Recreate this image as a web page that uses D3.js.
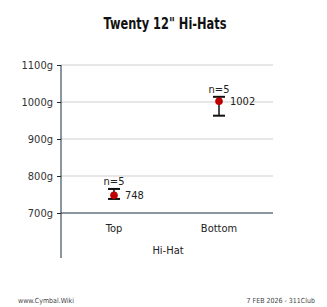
<!DOCTYPE html>
<meta charset="utf-8">
<style>
body { margin: 0; background: #fff; }
text { font-family: "DejaVu Sans Condensed", "Liberation Sans Narrow", sans-serif; fill: #222; }
.title { font-family: "DejaVu Sans Condensed", sans-serif; font-weight: bold; font-size: 16.5px; fill: #111; }
.tick text { font-size: 11px; fill: #333; }
.lbl { font-size: 11px; }
.foot { font-size: 7px; fill: #444; }
</style>
<svg width="327" height="307"></svg>
<script src="https://cdn.jsdelivr.net/npm/d3@7"></script>
<script>

var categories = ["Top", "Bottom"];
var means = [748, 1002];
var lows = [738, 963];
var highs = [765, 1014];
var counts = [5, 5];
var yTicks = [700, 800, 900, 1000, 1100];

var svg = d3.select("svg");

var x = d3.scalePoint()
    .domain(categories)
    .range([114, 219]);

var y = d3.scaleLinear()
    .domain([700, 1100])
    .range([213, 65]);

var left = 61, right = 273;

svg.append("text")
    .attr("class", "title")
    .attr("x", 165).attr("y", 29)
    .attr("text-anchor", "middle")
    .attr("textLength", 123)
    .attr("lengthAdjust", "spacingAndGlyphs")
    .text("Twenty 12\" Hi-Hats");

// gridlines
svg.append("g").selectAll("line")
    .data(yTicks.slice(1))
  .enter().append("line")
    .attr("x1", left).attr("x2", right)
    .attr("y1", function(d) { return y(d); })
    .attr("y2", function(d) { return y(d); })
    .attr("stroke", "#cfcfcf");

// y axis
var yAxis = svg.append("g")
    .attr("transform", "translate(" + left + ",0)")
    .call(d3.axisLeft(y).tickValues(yTicks).tickSize(4).tickPadding(4)
      .tickFormat(function(d) { return d + "g"; }));
yAxis.select(".domain").remove();
yAxis.selectAll(".tick line").attr("stroke", "#1a2a3a");

svg.append("line")
    .attr("x1", left).attr("x2", left)
    .attr("y1", 65).attr("y2", 258)
    .attr("stroke", "#1a2a3a");

// x axis
svg.append("line")
    .attr("x1", left).attr("x2", right)
    .attr("y1", y(700)).attr("y2", y(700))
    .attr("stroke", "#1a2a3a");

svg.append("g").selectAll("text")
    .data(categories)
  .enter().append("text")
    .attr("class", "lbl")
    .attr("x", function(d) { return x(d); })
    .attr("y", 232)
    .attr("text-anchor", "middle")
    .text(function(d) { return d; });

svg.append("text")
    .attr("class", "lbl")
    .attr("x", 168).attr("y", 254)
    .attr("text-anchor", "middle")
    .text("Hi-Hat");

// error bars
var pts = categories.map(function(c, i) {
  return { c: c, m: means[i], lo: lows[i], hi: highs[i], n: counts[i] };
});

var g = svg.append("g").selectAll("g")
    .data(pts)
  .enter().append("g");

g.append("line")
    .attr("x1", function(d) { return x(d.c); })
    .attr("x2", function(d) { return x(d.c); })
    .attr("y1", function(d) { return y(d.lo); })
    .attr("y2", function(d) { return y(d.hi); })
    .attr("stroke", "#111").attr("stroke-width", 1.5);

g.selectAll(".cap")
    .data(function(d) { return [d.lo, d.hi].map(function(v) { return { c: d.c, v: v }; }); })
  .enter().append("line")
    .attr("x1", function(d) { return x(d.c) - 6; })
    .attr("x2", function(d) { return x(d.c) + 6; })
    .attr("y1", function(d) { return y(d.v); })
    .attr("y2", function(d) { return y(d.v); })
    .attr("stroke", "#111").attr("stroke-width", 2);

g.append("circle")
    .attr("cx", function(d) { return x(d.c); })
    .attr("cy", function(d) { return y(d.m); })
    .attr("r", 3.8)
    .attr("fill", "#c00000");

g.append("text")
    .attr("class", "lbl")
    .attr("x", function(d) { return x(d.c) + 11; })
    .attr("y", function(d) { return y(d.m) + 4; })
    .text(function(d) { return d.m; });

g.append("text")
    .attr("class", "lbl")
    .attr("x", function(d) { return x(d.c); })
    .attr("y", function(d) { return y(d.hi) - 4; })
    .attr("text-anchor", "middle")
    .text(function(d) { return "n=" + d.n; });

// footer
svg.append("text")
    .attr("class", "foot")
    .attr("x", 18).attr("y", 303)
    .attr("fill", "#444")
    .text("www.Cymbal.Wiki");

svg.append("text")
    .attr("class", "foot")
    .attr("x", 315).attr("y", 303)
    .attr("text-anchor", "end")
    .attr("fill", "#444")
    .text("7 FEB 2026 - 311Club");

</script>
